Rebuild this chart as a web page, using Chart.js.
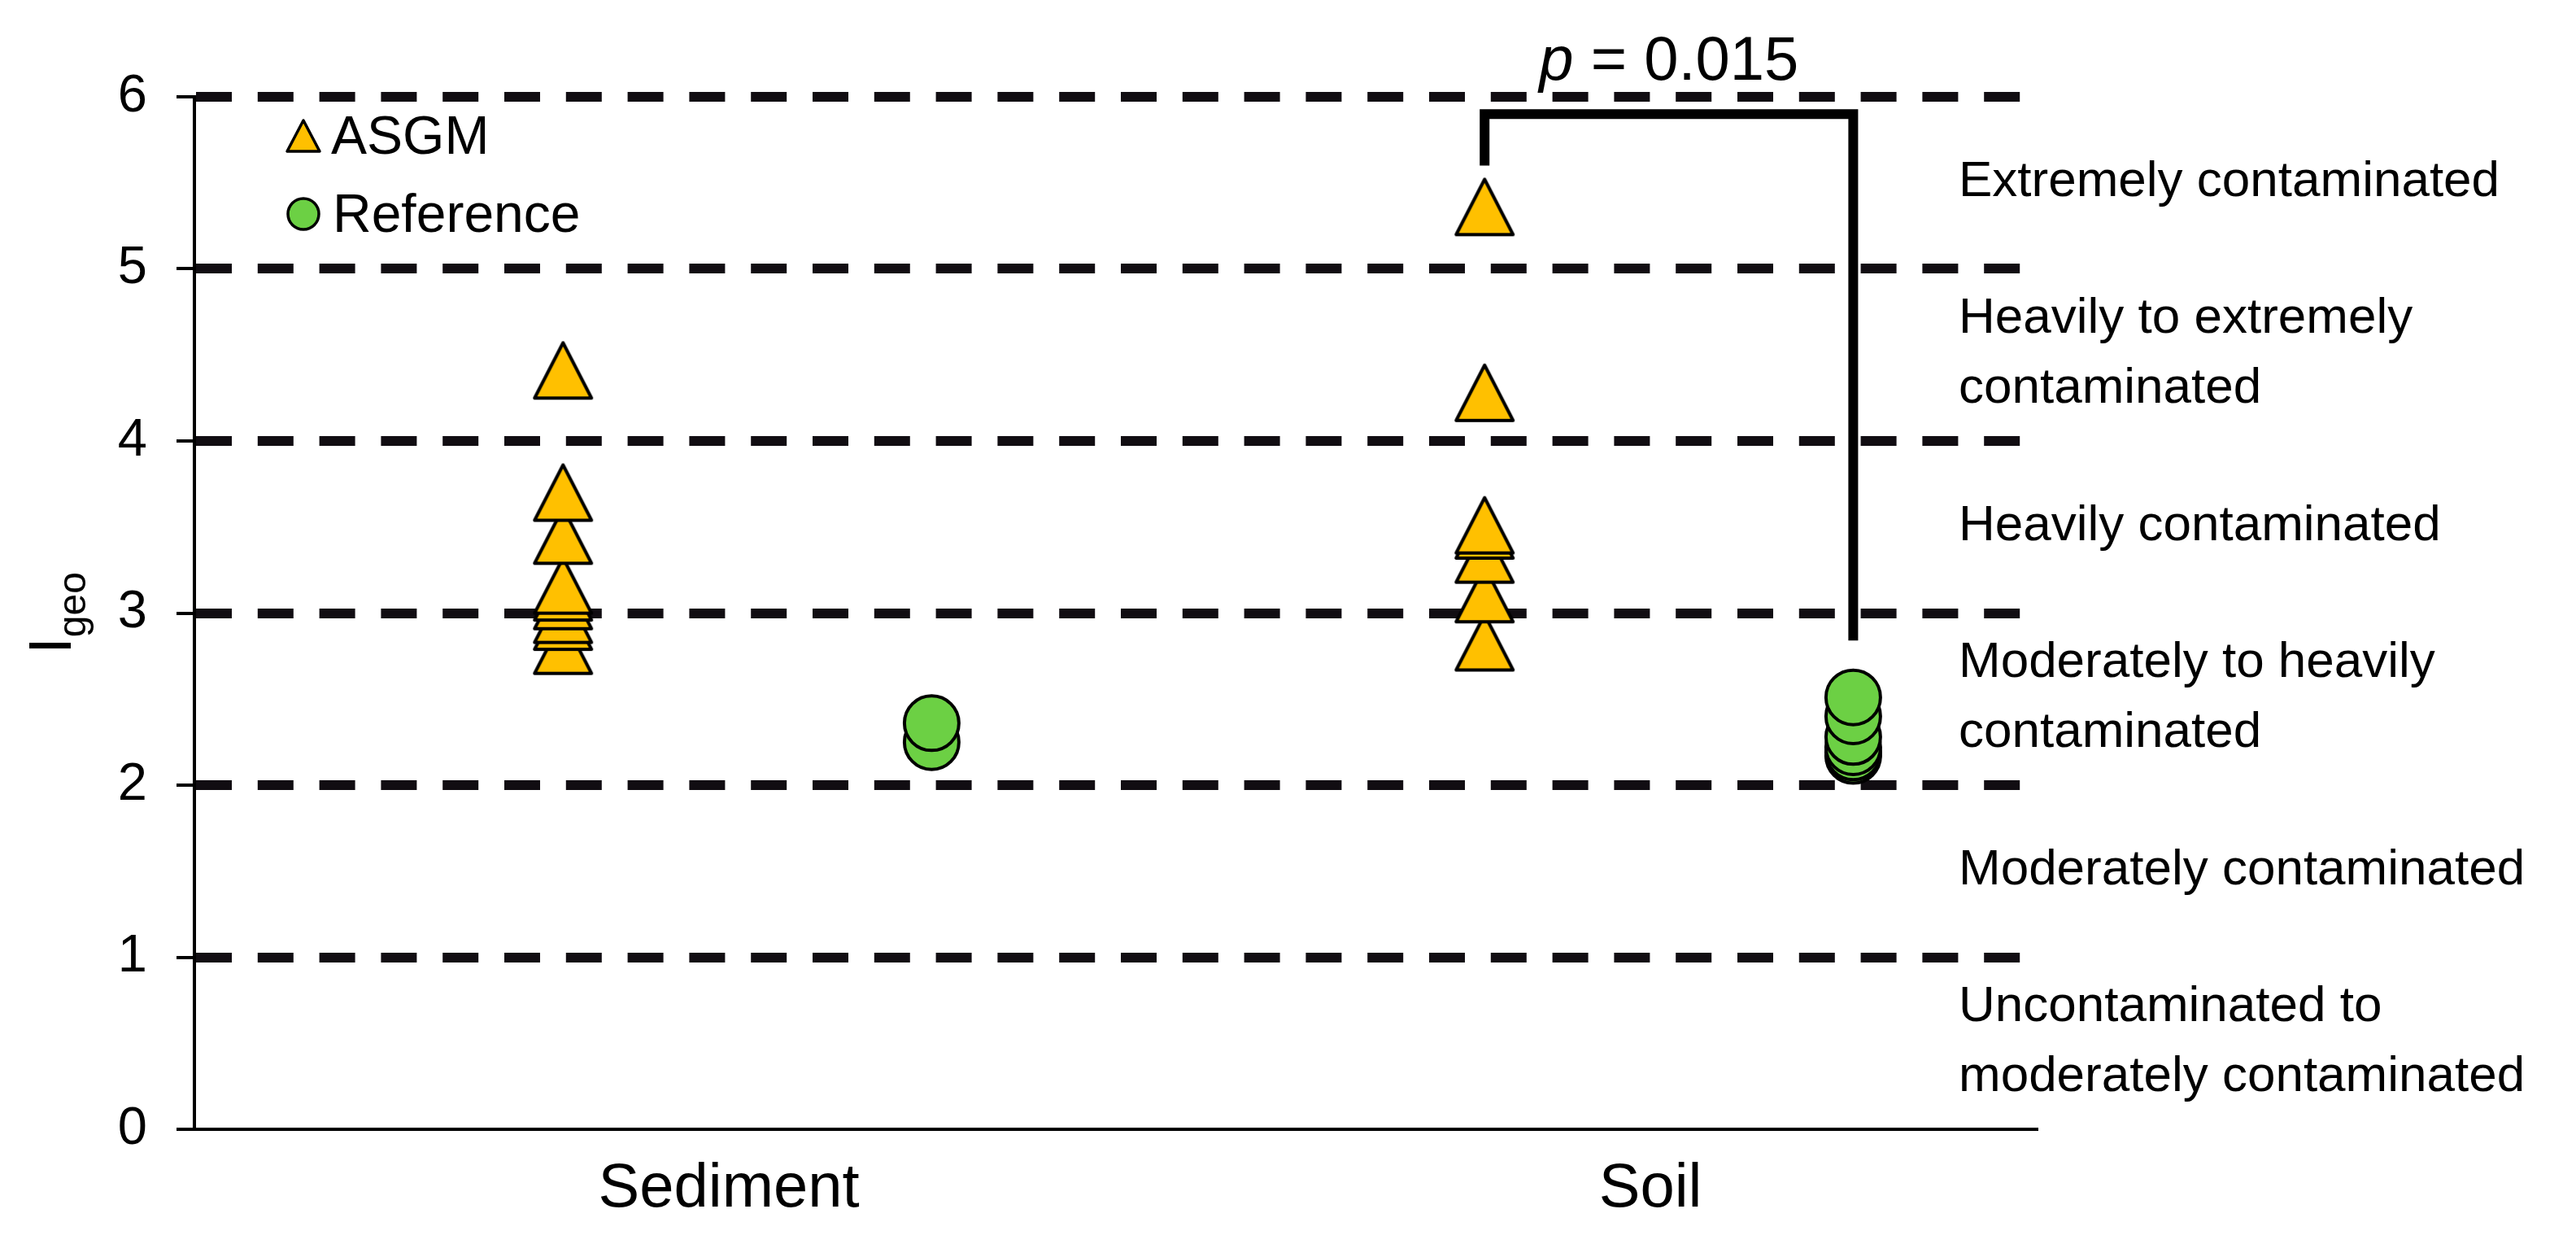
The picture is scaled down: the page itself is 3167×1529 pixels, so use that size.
<!DOCTYPE html>
<html><head><meta charset="utf-8">
<script src="https://cdn.jsdelivr.net/npm/chart.js@4.4.1/dist/chart.umd.min.js"></script>
<style>html,body{margin:0;padding:0;background:#fff;}canvas{display:block;}</style>
</head><body>
<canvas id="c" width="3167" height="1529"></canvas>
<script>
// ---- data ----
const categories = ['Sediment', 'Soil'];
const categoryPositions = [1.45, 3.95];
const seriesNames = ['ASGM', 'Reference'];
const sedimentAsgm = [2.81, 2.95, 2.99, 3.07, 3.12, 3.16, 3.45, 3.70, 4.41];
const sedimentReference = [2.25, 2.36];
const soilAsgm = [2.83, 3.11, 3.34, 3.48, 3.51, 4.28, 5.36];
const soilReference = [2.17, 2.19, 2.22, 2.28, 2.40, 2.51];
const groupX = [1, 2, 3.5, 4.5]; // sediment ASGM, sediment reference, soil ASGM, soil reference
const yTicks = [0, 1, 2, 3, 4, 5, 6];
const classLabels = [
  ['Uncontaminated to', 'moderately contaminated'],
  ['Moderately contaminated'],
  ['Moderately to heavily', 'contaminated'],
  ['Heavily contaminated'],
  ['Heavily to extremely', 'contaminated'],
  ['Extremely contaminated']
];
const bracketX = [3.5, 4.5];
const bracketY = [5.6, 5.9, 2.84]; // left end, top, right end
const pLabelParts = ['p', ' = 0.015'];
const pLabelPos = [4, 6.1];
const yTitle = ['I', 'geo'];

// ---- styles ----
const FONT = "'Liberation Sans', Arial, sans-serif";
const GOLD = '#FFC000';
const GREEN = '#6cd044';

function makeTriangle(w, h, lw) {
  const c = document.createElement('canvas');
  c.width = w + lw; c.height = h + lw;
  const g = c.getContext('2d');
  g.lineWidth = lw; g.lineJoin = 'round';
  g.fillStyle = GOLD; g.strokeStyle = '#000';
  g.beginPath();
  g.moveTo(c.width / 2, lw / 2 + 1);
  g.lineTo(lw / 2 + 1, c.height - lw / 2 - 1);
  g.lineTo(c.width - lw / 2 - 1, c.height - lw / 2 - 1);
  g.closePath();
  g.fill(); g.stroke();
  return c;
}
const triImg = makeTriangle(72, 70, 4);

const asgmPoints = sedimentAsgm.map(v => ({x: groupX[0], y: v}))
  .concat(soilAsgm.map(v => ({x: groupX[2], y: v})));
const refPoints = sedimentReference.map(v => ({x: groupX[1], y: v}))
  .concat(soilReference.map(v => ({x: groupX[3], y: v})));

const overlay = {
  id: 'overlay',
  afterDraw(chart) {
    const {ctx, chartArea: ca, scales: {x, y}} = chart;
    ctx.save();
    ctx.fillStyle = '#000';
    ctx.strokeStyle = '#000';
    // bracket
    ctx.lineWidth = 12; ctx.lineJoin = 'miter'; ctx.lineCap = 'butt';
    ctx.beginPath();
    ctx.moveTo(x.getPixelForValue(bracketX[0]), y.getPixelForValue(bracketY[0]));
    ctx.lineTo(x.getPixelForValue(bracketX[0]), y.getPixelForValue(bracketY[1]));
    ctx.lineTo(x.getPixelForValue(bracketX[1]), y.getPixelForValue(bracketY[1]));
    ctx.lineTo(x.getPixelForValue(bracketX[1]), y.getPixelForValue(bracketY[2]));
    ctx.stroke();
    // p label
    ctx.textBaseline = 'alphabetic'; ctx.textAlign = 'left';
    ctx.font = 'italic 76px ' + FONT;
    const w1 = ctx.measureText(pLabelParts[0]).width;
    ctx.font = '76px ' + FONT;
    const w2 = ctx.measureText(pLabelParts[1]).width;
    let px = x.getPixelForValue(pLabelPos[0]) - (w1 + w2) / 2;
    const py = y.getPixelForValue(pLabelPos[1]);
    ctx.font = 'italic 76px ' + FONT;
    ctx.fillText(pLabelParts[0], px, py);
    ctx.font = '76px ' + FONT;
    ctx.fillText(pLabelParts[1], px + w1, py);
    // class labels
    const fs = 62;
    ctx.font = fs + 'px ' + FONT;
    const lx = ca.right - 97;
    classLabels.forEach((lines, i) => {
      const mid = y.getPixelForValue(i + 0.5) - 6;
      const n = lines.length;
      lines.forEach((t, j) => {
        const cy = mid + (j - (n - 1) / 2) * 86;
        ctx.fillText(t, lx, cy + 0.358 * fs);
      });
    });
    // legend
    const lgX = ca.left + 134;
    const t1 = ca.top + 48, t2 = ca.top + 144;
    ctx.lineWidth = 3.5; ctx.lineJoin = 'round';
    ctx.fillStyle = GOLD;
    ctx.beginPath();
    ctx.moveTo(lgX, t1 - 19); ctx.lineTo(lgX - 20, t1 + 19); ctx.lineTo(lgX + 20, t1 + 19); ctx.closePath();
    ctx.fill(); ctx.stroke();
    ctx.fillStyle = GREEN;
    ctx.beginPath(); ctx.arc(lgX, t2, 19, 0, Math.PI * 2); ctx.fill(); ctx.stroke();
    ctx.fillStyle = '#000';
    ctx.font = '66px ' + FONT;
    ctx.fillText(seriesNames[0], lgX + 34, t1 + 22);
    ctx.fillText(seriesNames[1], lgX + 36, t2 + 22);
    // y title
    const cy = (ca.top + ca.bottom) / 2;
    ctx.font = '74px ' + FONT;
    const wi = ctx.measureText(yTitle[0]).width;
    ctx.font = '48px ' + FONT;
    const wg = ctx.measureText(yTitle[1]).width;
    ctx.translate(87, cy + (wi + wg) / 2);
    ctx.rotate(-Math.PI / 2);
    ctx.font = '74px ' + FONT;
    ctx.fillText(yTitle[0], 0, 0);
    ctx.font = '48px ' + FONT;
    ctx.fillText(yTitle[1], wi, 18);
    ctx.restore();
  }
};

new Chart(document.getElementById('c'), {
  type: 'scatter',
  data: {
    datasets: [
      { label: seriesNames[0], data: asgmPoints, pointStyle: triImg, pointRadius: 36,
        backgroundColor: GOLD, borderColor: '#000', borderWidth: 4 },
      { label: seriesNames[1], data: refPoints, pointStyle: 'circle', pointRadius: 33.5,
        backgroundColor: GREEN, borderColor: '#000', borderWidth: 4 }
    ]
  },
  options: {
    responsive: false, devicePixelRatio: 1, animation: false,
    layout: { padding: { left: 0, top: 119, right: 662, bottom: 0 } },
    plugins: { legend: { display: false }, tooltip: { enabled: false } },
    scales: {
      x: {
        type: 'linear', min: 0, max: 5,
        afterBuildTicks: s => { s.ticks = categoryPositions.map(v => ({value: v})); },
        afterFit: s => { s.height = 141; },
        ticks: { callback: (v, i) => categories[i], font: { family: FONT, size: 76 }, color: '#000',
                 padding: 28, autoSkip: false, maxRotation: 0 },
        grid: { display: true, drawOnChartArea: false, drawTicks: false },
        border: { display: true, color: '#000', width: 4 }
      },
      y: {
        min: 0, max: 6, z: 1,
        afterBuildTicks: s => { s.ticks = yTicks.map(v => ({value: v})); },
        afterFit: s => { s.width = 239; },
        ticks: { font: { family: FONT, size: 65 }, color: '#000', padding: 36 },
        grid: { color: '#110d12', lineWidth: c => (c.tick && c.tick.value === 0) ? 0 : 12,
                drawTicks: true, tickLength: 22, tickWidth: 4, tickColor: '#000' },
        border: { display: true, color: '#000', width: 4, dash: [44, 31.8] }
      }
    }
  },
  plugins: [overlay]
});
</script>
</body></html>
